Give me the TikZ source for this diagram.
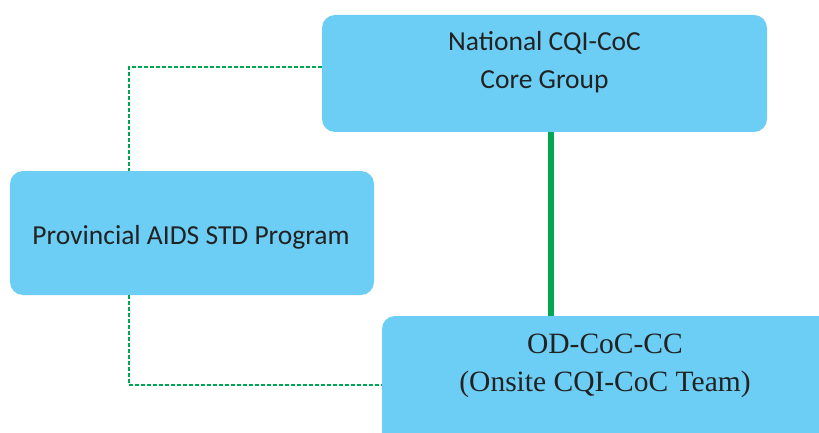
\documentclass[tikz,border=0pt]{standalone}
\usepackage{fontspec}
\newfontfamily\calfont{Carlito}
\newfontfamily\tmsfont{Liberation Serif}
\usetikzlibrary{calc}
\definecolor{boxblue}{HTML}{6CCEF5}
\definecolor{lgreen}{HTML}{00A651}
\definecolor{txt}{HTML}{222222}
\tikzset{
  box/.style={rectangle, rounded corners=13pt, fill=boxblue, draw=none, inner sep=0pt},
  sanslabel/.style={font=\calfont\fontsize{27.5}{38}\selectfont, text=txt, align=center, inner sep=0pt},
  seriflabel/.style={font=\tmsfont\fontsize{29.5}{38}\selectfont, text=txt, align=center, inner sep=0pt},
  dashlink/.style={draw=lgreen, line width=1.2pt, dash pattern=on 4pt off 2pt},
  solidlink/.style={draw=lgreen, line width=6pt}
}
\begin{document}
\begin{tikzpicture}[x=1pt,y=-1pt]
\clip (0,0) rectangle (819,433);
\fill[white] (0,0) rectangle (819,433);
\node[box, minimum width=445pt, minimum height=117pt] (top) at (544.5,73.5) {};
\node[box, minimum width=364pt, minimum height=124pt] (prov) at (192,233) {};
\node[box, minimum width=450pt, minimum height=130pt] (bot) at (607,381) {};
\node[sanslabel] (toptext) at (544.5,62.5) {National CQI-CoC\\Core Group};
\node[sanslabel] (provtext) at (191,237) {Provincial AIDS STD Program};
\node[seriflabel] (bottext) at (605,366) {OD-CoC-CC\\(Onsite CQI-CoC Team)};
\coordinate (c1) at (129,67);
\coordinate (c2) at (129,385);
\coordinate (sa) at (551,0);
\draw[solidlink] (sa |- top.south) -- (sa |- bot.north);
\draw[dashlink] (top.west |- c1) -- (c1) -- (c1 |- prov.north);
\draw[dashlink] (prov.south -| c2) -- (c2) -- (c2 -| bot.west);
\end{tikzpicture}
\end{document}
